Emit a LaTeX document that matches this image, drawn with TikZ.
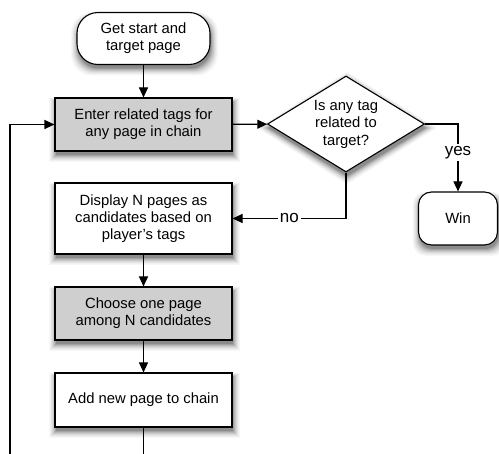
\documentclass[tikz,border=0pt]{standalone}
\usepackage{fontspec}
\setmainfont{Liberation Sans}
\usetikzlibrary{shapes.geometric,arrows.meta}
\tikzset{
  flowbase/.style={draw=black,line width=1.1pt,align=center,inner sep=0pt,font=\fontsize{14.8}{17}\selectfont},
  procbox/.style={flowbase,rectangle,minimum width=177pt,minimum height=53pt,fill=white},
  graybox/.style={procbox,fill=black!19},
  termbox/.style={flowbase,rectangle,fill=white},
  decbox/.style={flowbase,diamond,fill=white,minimum width=157pt,minimum height=96pt,aspect=1.64},
  conn/.style={line width=1.1pt,-{Triangle[length=10pt,width=9pt]}},
  plainline/.style={line width=1.1pt},
  lbl/.style={fill=white,inner sep=2pt,font=\fontsize{17}{19}\selectfont}}
\begin{document}
\begin{tikzpicture}[x=1pt,y=-1pt]
\useasboundingbox (0,0) rectangle (499,454);
% soft shadows, drawn first so that the shapes cover them
\foreach \xa/\ya/\xb/\yb/\rr in {77/12.5/210/64.5/21,55/98/232/151/0.1,418.5/192/497.5/245/13,55/183/232/254/0.1,55/287/232/340/0.1,55/373/232/427/0.1}{
  \foreach \e/\k in {7/3,6/6,5/10,4/15,3/21,2/28,1/36,0/45}{
    \fill[black!\k,rounded corners=\rr pt] (\xa+1-\e,\ya+4-\e*0.6) rectangle (\xb+1+\e,\yb+4+\e);}}
\foreach \e/\k in {7/3,6/6,5/10,4/15,3/21,2/28,1/36,0/45}{
  \fill[black!\k] (347,80-\e*1.2) -- (425.5+\e*1.6,128) -- (347,176+\e*1.2) -- (268.5-\e*1.6,128) -- cycle;}

\node[termbox,rounded corners=21pt,minimum width=133pt,minimum height=52pt] (start) at (143.5,38.5) {Get start and\\target page};
\node[graybox] (enter) at (143.5,124.5) {Enter related tags for\\any page in chain};
\node[decbox] (dec) at (346,124) {};
\node[align=center,font=\fontsize{14.8}{17.5}\selectfont] (dect) at (346,124) {Is any tag\\related to\\target?};
\node[termbox,rounded corners=13pt,minimum width=79pt,minimum height=53pt] (win) at (458,218.5) {Win};
\node[procbox,minimum height=71pt] (disp) at (143.5,218.5) {Display N pages as\\candidates based on\\player's tags};
\node[graybox] (choose) at (143.5,313.5) {Choose one page\\among N candidates};
\node[procbox,minimum height=54pt] (add) at (143.5,400) {Add new page to chain};
\coordinate (bot) at (143.5,454);
\coordinate (botl) at (10,454);
\coordinate (yescorner) at (458,124);
\coordinate (nocorner) at (346,218.5);

\draw[conn] (start) -- (enter);
\draw[conn] (enter) -- (dec);
\draw[conn] (dec.east) -- (yescorner) -- node[lbl,pos=0.42] {yes} (win.north);
\draw[conn] (dec.south) -- (nocorner) -- node[lbl,pos=0.5] {no} (disp.east);
\draw[conn] (disp) -- (choose);
\draw[conn] (choose) -- (add);
\draw[plainline] (add) -- (bot);
\draw[conn] (botl) -- (10,124.5) -- (enter.west);
\end{tikzpicture}
\end{document}
